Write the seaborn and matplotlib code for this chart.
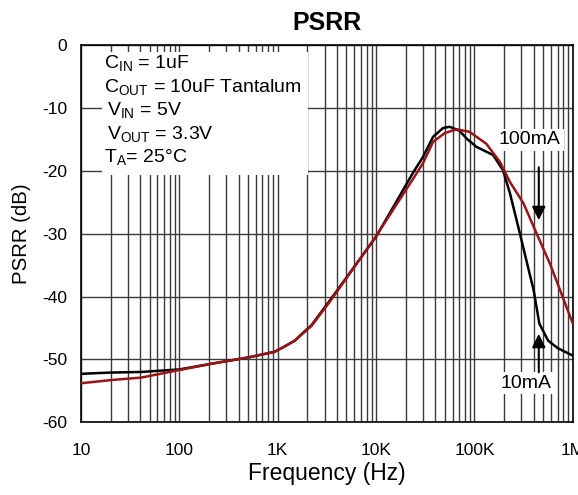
import numpy as np
import pandas as pd
import matplotlib
matplotlib.use("Agg")
import matplotlib.pyplot as plt
import seaborn as sns
from matplotlib.patches import Rectangle
from matplotlib.ticker import FixedLocator, LogLocator, NullFormatter

# valeurs (Hz, dB)
freq_10ma = [10, 20, 41, 100, 230, 500, 930, 1160, 1500, 1800, 2200, 3400,
             10000, 24000, 30000, 38000, 48000, 56000, 70000, 85000, 105000,
             155000, 195000, 230000, 290000, 363000, 400000, 457000, 560000,
             700000, 1000000]
psrr_10ma = [-52.3, -52.1, -52.0, -51.6, -50.6, -49.7, -48.8, -48.0, -47.0,
             -45.8, -44.6, -40.6, -30.5, -20.2, -17.8, -14.6, -13.2, -13.0,
             -13.6, -15.0, -16.2, -17.5, -19.9, -23.6, -30.0, -36.3, -39.0,
             -44.3, -47.0, -48.2, -49.4]

freq_100ma = [10, 20, 41, 100, 230, 500, 930, 1160, 1500, 1800, 2200, 3400,
              10000, 24000, 30000, 38000, 50000, 66000, 89000, 132000, 182000,
              230000, 316000, 400000, 590000, 1000000]
psrr_100ma = [-53.8, -53.3, -52.9, -51.7, -50.6, -49.7, -48.8, -48.0, -47.0,
              -45.9, -44.7, -40.8, -30.4, -21.2, -18.8, -15.4, -14.0, -13.4,
              -13.8, -15.7, -18.6, -21.8, -25.2, -28.9, -34.9, -44.3]

x_ticks = [10, 100, 1000, 10000, 100000, 1000000]
x_labels = ["10", "100", "1K", "10K", "100K", "1M"]
y_ticks = [0, -10, -20, -30, -40, -50, -60]

conditions = [r"C$_\mathregular{IN}$ = 1uF",
              r"C$_\mathregular{OUT}$ = 10uF Tantalum",
              r"V$_\mathregular{IN}$ = 5V",
              r"V$_\mathregular{OUT}$ = 3.3V",
              r"T$_\mathregular{A}$= 25°C"]
# lignes de base (coord. axes)
cond_x = [0.046, 0.046, 0.053, 0.053, 0.046]
cond_y = [0.936, 0.873, 0.814, 0.748, 0.687]

sns.set_style("white")
plt.rcParams["font.family"] = ["Liberation Sans", "DejaVu Sans"]
plt.rcParams["axes.unicode_minus"] = False
plt.rcParams["mathtext.fontset"] = "custom"
plt.rcParams["mathtext.rm"] = "Liberation Sans"
for k in ["text.color", "axes.labelcolor", "xtick.color", "ytick.color"]:
    plt.rcParams[k] = "black"

df_10 = pd.DataFrame({"f": freq_10ma, "psrr": psrr_10ma})
df_100 = pd.DataFrame({"f": freq_100ma, "psrr": psrr_100ma})

fig = plt.figure(figsize=(5.78, 4.95), dpi=100)
ax = fig.add_axes([0.140, 0.147, 0.851, 0.762])

sns.lineplot(data=df_10, x="f", y="psrr", ax=ax, color="black", lw=1.8, zorder=4)
sns.lineplot(data=df_100, x="f", y="psrr", ax=ax, color="#9a1515", lw=1.8, zorder=4)

ax.set_xscale("log")
ax.set_xlim(10, 1e6)
ax.set_ylim(-60, 0)
ax.xaxis.set_major_locator(FixedLocator(x_ticks))
ax.set_xticklabels(x_labels)
ax.xaxis.set_minor_locator(LogLocator(base=10, subs=np.arange(2, 10)))
ax.xaxis.set_minor_formatter(NullFormatter())
ax.set_yticks(y_ticks)
ax.grid(True, which="both", axis="x", color="#3a3a3a", lw=1.0)
ax.grid(True, which="major", axis="y", color="#3a3a3a", lw=1.0)
ax.tick_params(axis="both", which="both", length=0, labelsize=12.5)
ax.tick_params(axis="x", pad=15)
ax.tick_params(axis="y", pad=10)
for s in ax.spines.values():
    s.set_color("black")
    s.set_linewidth(1.2)

ax.set_xlabel("Frequency (Hz)", fontsize=16.5, labelpad=3)
ax.set_ylabel("PSRR (dB)", fontsize=14.7, labelpad=8)
ax.set_title("PSRR", fontsize=18, fontweight="bold", pad=11)

# encadré des conditions (fond blanc sur la grille)
ax.add_patch(Rectangle((0.043, 0.655), 0.418, 0.326, transform=ax.transAxes,
                       facecolor="white", edgecolor="none", zorder=3))
for txt, tx, ty in zip(conditions, cond_x, cond_y):
    ax.text(tx, ty, txt, transform=ax.transAxes, ha="left", va="baseline",
            fontsize=14, zorder=5)

# annotations des courants
ax.text(366000, -15.1, "100mA", ha="center", va="center", fontsize=14, zorder=5,
        bbox=dict(facecolor="white", edgecolor="none", pad=2))
ax.annotate("", xy=(451000, -28.3), xytext=(451000, -19.0),
            arrowprops=dict(arrowstyle="-|>", color="black", lw=1.5,
                            mutation_scale=20), zorder=6)
ax.text(333000, -53.8, "10mA", ha="center", va="center", fontsize=14, zorder=5,
        bbox=dict(facecolor="white", edgecolor="none", pad=2))
ax.annotate("", xy=(451000, -45.5), xytext=(451000, -52.5),
            arrowprops=dict(arrowstyle="-|>", color="black", lw=1.5,
                            mutation_scale=20), zorder=6)

fig.savefig("out.png", dpi=100)
